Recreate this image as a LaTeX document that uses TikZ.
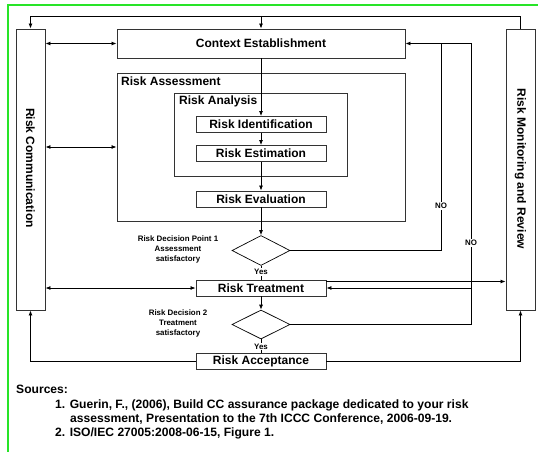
\documentclass[tikz,border=0pt]{standalone}
\usepackage{fontspec}
\setmainfont{Liberation Sans}
\usetikzlibrary{arrows.meta,shapes.geometric}
\definecolor{framegreen}{RGB}{40,228,40}
\begin{document}
\begin{tikzpicture}[x=1pt,y=-1pt,
  box/.style={draw=black!80,line width=0.9pt,inner sep=0pt},
  big/.style={font=\bfseries\fontsize{12}{14}\selectfont},
  stagebox/.style={box,big,minimum width=130pt,minimum height=16pt},
  decision/.style={diamond,draw=black,line width=0.7pt,inner sep=0pt,minimum width=58pt,minimum height=30pt},
  small/.style={font=\bfseries\fontsize{7.9}{10}\selectfont,inner sep=1pt},
  conn/.style={draw=black,line width=0.8pt},
  arr/.style={conn,-{Latex[length=5pt,width=4pt]}},
  darr/.style={conn,{Latex[length=5pt,width=4pt]}-{Latex[length=5pt,width=4pt]}},
  nolabel/.style={small,fill=white,inner sep=1.5pt},
  srcline/.style={anchor=base west,inner sep=0pt,font=\bfseries\fontsize{12.1}{14}\selectfont}
]
\useasboundingbox (0,0) rectangle (538,452);

% page frame
\fill[framegreen] (6.5,5) rectangle (8.5,452);
\fill[framegreen] (6.5,4.5) rectangle (538,6.5);

% side boxes
\node[box,minimum width=29pt,minimum height=281pt] (RC) at (30.5,169.5) {};
\node[big,rotate=-90] (RClab) at (30.5,168) {Risk Communication};
\node[box,minimum width=29pt,minimum height=281pt] (RMR) at (520.5,169.5) {};
\node[big,rotate=-90] (RMRlab) at (520.5,169) {Risk Monitoring and Review};

% context establishment
\node[box,big,minimum width=288pt,minimum height=29pt] (CE) at (261,43.5) {Context Establishment};

% assessment and analysis frames
\node[box,minimum width=288pt,minimum height=148pt] (RA) at (261,147) {};
\node[big,anchor=west,inner sep=0pt] (RAlab) at (121,81) {Risk Assessment};
\node[box,minimum width=173pt,minimum height=83pt] (RAn) at (260.5,134.5) {};
\node[big,anchor=west,inner sep=0pt] (RAnlab) at (179,101.5) {Risk Analysis};

% process steps
\node[stagebox] (RI) at (261,124.5) {Risk Identification};
\node[stagebox] (RE) at (261,153.5) {Risk Estimation};
\node[stagebox] (REv) at (261,199) {Risk Evaluation};
\node[decision] (D1) at (261,250.5) {};
\node[stagebox] (RT) at (261,288) {Risk Treatment};
\node[decision,minimum height=29pt] (D2) at (261,324.5) {};
\node[stagebox] (RAc) at (261,361.5) {Risk Acceptance};

% decision captions
\node[small,align=center] (D1lab) at (178,249) {Risk Decision Point 1\\Assessment\\satisfactory};
\node[small,align=center] (D2lab) at (178,323) {Risk Decision 2\\Treatment\\satisfactory};

% main flow
\draw[arr] (CE.south) -- (RI.north);
\draw[arr] (RI.south) -- (RE.north);
\draw[arr] (RE.south) -- (REv.north);
\draw[arr] (REv.south) -- (D1.north);
\draw[conn] (D1.south) -- (RT.north);
\node[small,fill=white] (yes1) at (261,272) {Yes};
\draw[arr] (RT.south) -- (D2.north);
\draw[conn] (D2.south) -- (RAc.north);
\node[small,fill=white] (yes2) at (261,346.5) {Yes};

% top feedback bus
\coordinate (busR) at (520.5,16);
\coordinate (busL) at (30.5,16);
\coordinate (busC) at (261,16);
\draw[arr] (RMR.north) -- (busR) -- (busL) -- (RC.north);
\draw[arr] (busC) -- (CE.north);

% communication links
\draw[darr] (RC.east |- CE.west) -- (CE.west);
\draw[darr] (RC.east |- RA.west) -- (RA.west);
\draw[darr] (RC.east |- RT.west) -- (RT.west);

% NO branches back to context establishment
\coordinate (no1top) at (441,43.5);
\coordinate (no2top) at (471,43.5);
\draw[conn] (D1.east) -| (no1top);
\draw[arr] (D2.east) -| (no2top) -- (CE.east);
\draw[arr] (no2top |- RT.east) -- (RT.east);
\node[nolabel] (no1) at (441,206) {NO};
\node[nolabel] (no2) at (471,243) {NO};

% treatment to monitoring
\coordinate (rtout) at (326,281.5);
\draw[arr] (rtout) -- (RMR.west |- rtout);

% acceptance outputs
\draw[arr] (RAc.west) -| (RC.south);
\draw[arr] (RAc.east) -| (RMR.south);

% sources
\node[srcline] (src0) at (16,393.5) {Sources:};
\node[srcline] (src1) at (55,408.5) {1. Guerin, F., (2006), Build CC assurance package dedicated to your risk};
\node[srcline] (src1b) at (70,422.5) {assessment, Presentation to the 7th ICCC Conference, 2006-09-19.};
\node[srcline] (src2) at (55,436.5) {2. ISO/IEC 27005:2008-06-15, Figure 1.};
\end{tikzpicture}
\end{document}
